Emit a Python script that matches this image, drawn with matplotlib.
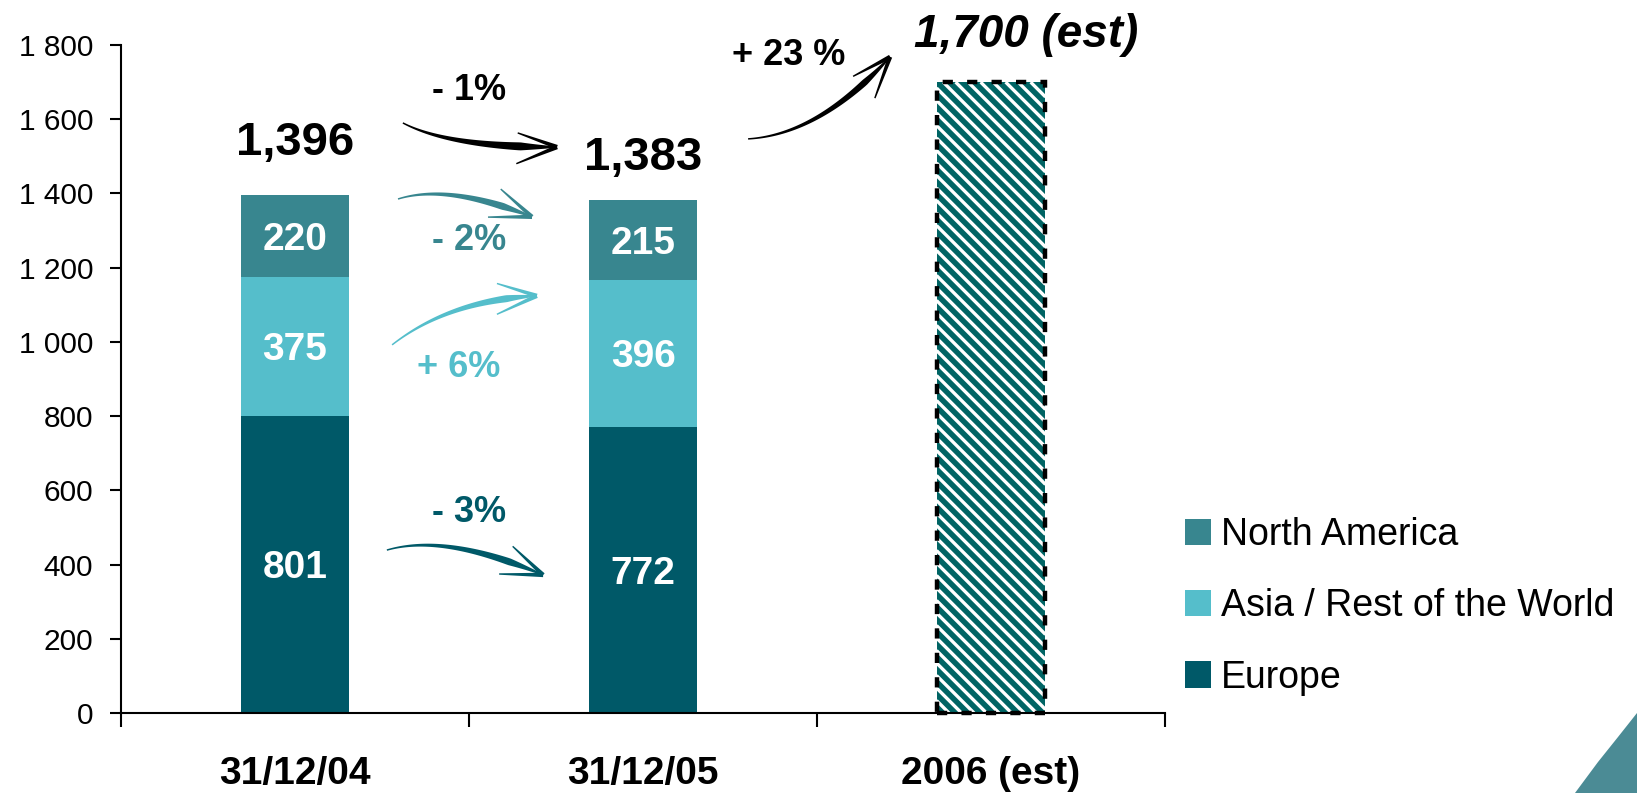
import numpy as np
import matplotlib.pyplot as plt
from matplotlib.patches import Polygon
from matplotlib.collections import LineCollection
from matplotlib.ticker import FuncFormatter

plt.rcParams['font.family'] = ['Liberation Sans', 'DejaVu Sans']

# --- data ---
categories = ['31/12/04', '31/12/05', '2006 (est)']
europe = [801, 772]
asia = [375, 396]
north_america = [220, 215]
estimate_2006 = 1700
series_names = ['North America', 'Asia / Rest of the World', 'Europe']

# growth labels: (text, x, y)
growth_total = [('- 1%', 0.50, 1652), ('+ 23 %', 1.42, 1746)]
growth_na = ('- 2%', 0.50, 1248)
growth_asia = ('+ 6%', 0.47, 905)
growth_europe = ('- 3%', 0.50, 515)

# --- colours ---
EUROPE_C = '#005968'
ASIA_C = '#55BECB'
NA_C = '#38868F'
HATCH_C = '#006464'

W, H = 1637, 793
fig = plt.figure(figsize=(W / 100, H / 100), dpi=100)
ax = fig.add_axes([121 / W, 80 / H, 1044 / W, 668 / H])
ax.set_xlim(-0.5, 2.5)
ax.set_ylim(0, 1800)

x = np.arange(len(europe))
eu = np.array(europe)
asi = np.array(asia)
na = np.array(north_america)
width = 0.313

b_eu = ax.bar(x, eu, width, color=EUROPE_C)
b_as = ax.bar(x, asi, width, bottom=eu, color=ASIA_C)
b_na = ax.bar(x, na, width, bottom=eu + asi, color=NA_C)

to_px = ax.transData.transform
to_data = ax.transData.inverted().transform

# estimated bar: teal fill with white diagonal stripes, dashed outline
ax.bar(2, estimate_2006, width, color=HATCH_C, linewidth=0)
(x0, y0), (x1, y1) = to_px([(2 - width / 2, 0), (2 + width / 2, estimate_2006)])
stripes = []
for k in np.arange(x0 - (y1 - y0), x1, 12.5):
    # stripe runs down-right at 45 deg from (k, y1); keep the part inside the bar
    xa, xb = max(k, x0), min(k + (y1 - y0), x1)
    if xb - xa < 1:
        continue
    stripes.append(to_data([(xa, y1 - (xa - k)), (xb, y1 - (xb - k))]))
ax.add_collection(LineCollection(stripes, colors='white', linewidths=2.4,
                                 capstyle='butt', zorder=1.5))
ax.bar(2, estimate_2006, width, fill=False, edgecolor='black',
       linestyle=(0, (2.3, 3.2)), linewidth=3.2, clip_on=False, zorder=2)

# segment values
for xi, e, a, n in zip(x, eu, asi, na):
    for bottom, val in ((0, e), (e, a), (e + a, n)):
        ax.text(xi, bottom + val / 2, str(val), ha='center', va='center_baseline',
                color='white', fontsize=28, fontweight='bold')

# totals
totals = eu + asi + na
total_offsets = [108, 80]
for xi, tot, off in zip(x, totals, total_offsets):
    ax.text(xi, tot + off, f'{tot:,}', ha='center', va='baseline',
            fontsize=34, fontweight='bold')
ax.text(2.1, 1795, f'{estimate_2006:,} (est)', ha='center', va='baseline',
        fontsize=33, fontweight='bold', style='italic', clip_on=False)

# growth labels
for (txt, gx, gy), col in ((growth_total[0], 'black'), (growth_total[1], 'black'),
                           (growth_na, NA_C), (growth_asia, ASIA_C),
                           (growth_europe, EUROPE_C)):
    ax.text(gx, gy, txt, ha='center', va='baseline', fontsize=26,
            fontweight='bold', color=col)


def brush_arrow(p0, p1, t_ctrl, bend, color, wmax=6.0, head=44):
    """Hand-drawn looking curved arrow, built in pixel space."""
    a, b = to_px(p0), to_px(p1)
    d = b - a
    u = d / np.hypot(*d)
    n = np.array([-u[1], u[0]])
    c = a + t_ctrl * d + bend * n
    t = np.linspace(0, 1, 80)[:, None]
    pts = (1 - t) ** 2 * a + 2 * (1 - t) * t * c + t ** 2 * b
    tang = 2 * (1 - t) * (c - a) + 2 * t * (b - c)
    tang /= np.linalg.norm(tang, axis=1)[:, None]
    nrm = np.column_stack([-tang[:, 1], tang[:, 0]])
    tt = t[:, 0]
    w = np.where(tt < 0.82, 1.5 + (wmax - 1.5) * (tt / 0.82) ** 1.3,
                 wmax - (wmax - 1.2) * (tt - 0.82) / 0.18)
    outline = np.vstack([pts + nrm * w[:, None] / 2, (pts - nrm * w[:, None] / 2)[::-1]])
    ax.add_patch(Polygon(to_data(outline), closed=True, fc=color, ec='none', clip_on=False))
    end_dir = tang[-1]
    for ang, ln in ((22, head), (-20, head * 0.95)):
        r = np.deg2rad(180 + ang)
        rot = np.array([[np.cos(r), -np.sin(r)], [np.sin(r), np.cos(r)]])
        v = rot @ end_dir
        e = b + v * ln
        m = np.array([-v[1], v[0]])
        stroke = np.array([b + m * 2.2, e + m * 0.7, e - m * 0.7, b - m * 2.2])
        ax.add_patch(Polygon(to_data(stroke), closed=True, fc=color, ec='none', clip_on=False))


brush_arrow((0.31, 1590), (0.753, 1525), 0.32, -17, 'black', wmax=8)
brush_arrow((1.302, 1547), (1.71, 1768), 0.39, -32, 'black', wmax=6.5)
brush_arrow((0.296, 1385), (0.681, 1337), 0.35, 22, NA_C, wmax=7)
brush_arrow((0.279, 992), (0.695, 1124), 0.45, 24, ASIA_C, wmax=7)
brush_arrow((0.264, 439), (0.713, 372), 0.35, 26, EUROPE_C, wmax=7)

# axes styling
for s in ('top', 'right'):
    ax.spines[s].set_visible(False)
for s in ('left', 'bottom'):
    ax.spines[s].set_linewidth(1.5)
ax.set_yticks(np.arange(0, 1801, 200))
ax.yaxis.set_major_formatter(FuncFormatter(lambda v, _: f'{v:,.0f}'.replace(',', ' ')))
ax.tick_params(axis='y', length=8, width=1.5, pad=12, labelsize=21.5)
ax.set_xticks([-0.5, 0.5, 1.5, 2.5])
ax.set_xticklabels([])
ax.set_xticks([0, 1, 2], minor=True)
ax.set_xticklabels(categories, minor=True, fontsize=28, fontweight='bold')
ax.tick_params(axis='x', which='major', length=10, width=1.5)
ax.tick_params(axis='x', which='minor', length=0, pad=31)

ax.legend([b_na, b_as, b_eu], series_names, loc='upper left',
          bbox_to_anchor=(1185 / W, 1 - 517 / H), bbox_transform=fig.transFigure,
          frameon=False, fontsize=27, handlelength=0.7, handleheight=0.7,
          handletextpad=0.25, labelspacing=0.94, borderpad=0, borderaxespad=0)

# corner swoosh
swoosh = np.array([[1575, 793], [1598, 762], [1618, 737], [1637, 713], [1637, 793]])
fig.patches.append(Polygon(swoosh / [W, -H] + [0, 1], closed=True,
                           transform=fig.transFigure, fc='#4B8B95', ec='none'))

fig.savefig('out.png', dpi=100)
